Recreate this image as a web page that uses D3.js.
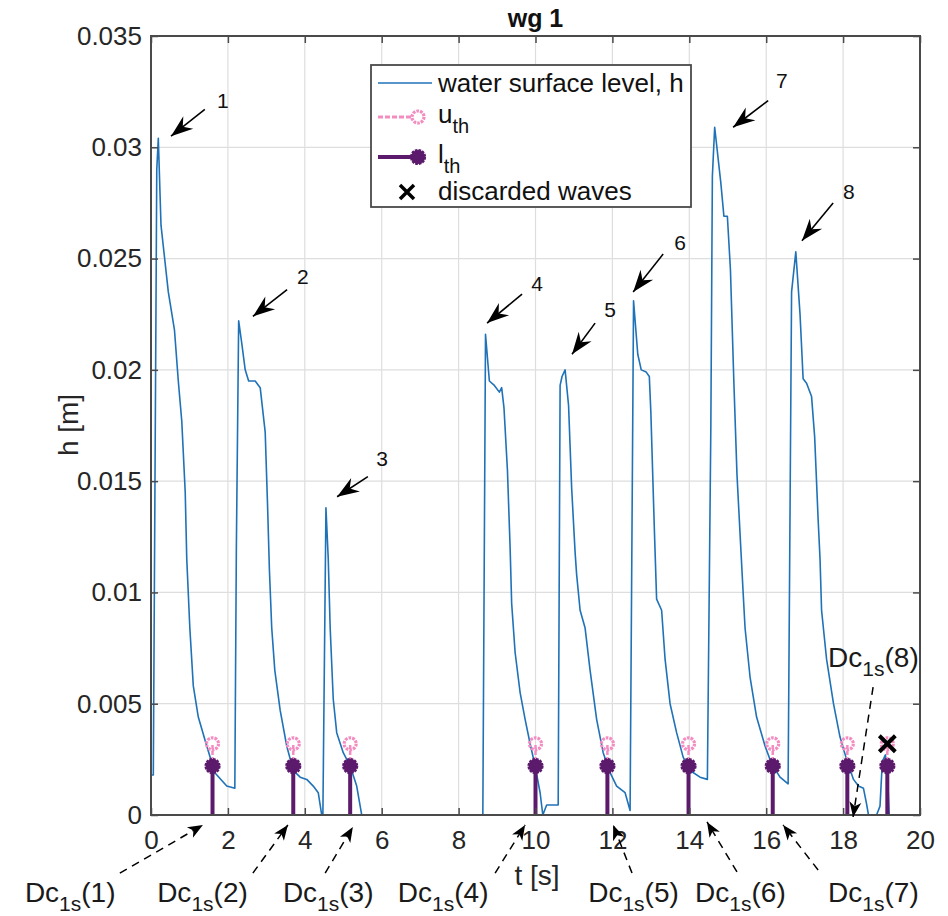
<!DOCTYPE html>
<html><head><meta charset="utf-8">
<script src="https://cdn.jsdelivr.net/npm/d3@7"></script>
<style>body{margin:0;background:#fff}svg{display:block;font-family:"Liberation Sans",Arial,Helvetica,sans-serif}</style>
</head><body>
<svg id="c" width="948" height="916"></svg>
<script>
// ---------- data ----------
const timeS = [0.00,0.06,0.15,0.19,0.26,0.45,0.61,0.71,0.80,0.89,0.93,1.01,1.10,1.23,1.45,1.66,1.97,2.18,
  2.22,2.28,2.36,2.45,2.54,2.71,2.84,2.97,3.03,3.08,3.14,3.22,3.36,3.53,3.70,3.88,4.05,4.22,4.35,4.44,
  4.47,4.55,4.61,4.66,4.74,4.83,5.00,5.18,5.35,5.48,8.63,
  8.70,8.80,8.93,9.06,9.12,9.18,9.27,9.34,9.38,9.47,9.60,9.73,9.86,9.99,10.12,10.19,10.29,10.59,
  10.64,10.69,10.77,10.86,10.94,11.03,11.07,11.16,11.29,11.42,11.59,11.76,11.94,12.11,12.33,12.46,
  12.55,12.66,12.75,12.88,12.96,13.00,13.09,13.15,13.28,13.37,13.50,13.67,13.84,14.02,14.28,14.47,
  14.56,14.60,14.66,14.82,14.90,14.99,15.07,15.16,15.24,15.33,15.40,15.45,15.58,15.75,15.97,16.14,16.36,16.57,
  16.66,16.77,16.88,16.96,17.05,17.18,17.26,17.35,17.40,17.44,17.57,17.75,17.92,18.09,18.27,18.40,18.53,18.61,18.66,
  18.87,18.96,19.02,19.10,19.15,19.20,20.00];
const levelH = [0.0018,0.0018,0.0290,0.0304,0.0265,0.0235,0.0218,0.0195,0.0177,0.0145,0.0115,0.0084,0.0058,0.0044,0.0031,0.0019,0.0013,0.0012,
  0.0120,0.0222,0.0212,0.0200,0.0195,0.0195,0.0192,0.0172,0.0140,0.0110,0.0084,0.0065,0.0047,0.0031,0.0020,0.0017,0.0016,0.0013,0.0010,0.0000,
  0.0000,0.0138,0.0115,0.0084,0.0052,0.0037,0.0028,0.0022,0.0013,0.0000,0.0000,
  0.0216,0.0195,0.0193,0.0190,0.0192,0.0183,0.0155,0.0120,0.0095,0.0073,0.0055,0.0043,0.0032,0.0022,0.0010,0.0000,0.00045,0.00045,
  0.0193,0.0197,0.0200,0.0184,0.0147,0.0118,0.0108,0.0092,0.0084,0.0065,0.0043,0.0028,0.0019,0.0013,0.0010,0.0002,
  0.0231,0.0207,0.0200,0.0199,0.0197,0.0181,0.0129,0.0097,0.0092,0.0070,0.0050,0.0037,0.0026,0.0020,0.0017,0.0016,
  0.0174,0.0287,0.0309,0.0284,0.0269,0.0269,0.0245,0.0194,0.0153,0.0123,0.0100,0.0084,0.0062,0.0044,0.0031,0.0023,0.0017,0.0014,
  0.0235,0.0253,0.0225,0.0196,0.0194,0.0188,0.0170,0.0133,0.0115,0.0092,0.0070,0.0050,0.0035,0.0025,0.0016,0.0013,0.0012,0.0005,0.0000,
  0.0000,0.0004,0.0024,0.0027,0.0020,0.0000,0.0000];

const stemTimes = [1.60,3.70,5.18,10.00,11.87,13.98,16.17,18.11,19.15];
const upperTh   = [0.0032,0.0032,0.0032,0.0032,0.0032,0.0032,0.0032,0.0032,0.0032];
const lowerTh   = [0.0022,0.0022,0.0022,0.0022,0.0022,0.0022,0.0022,0.0022,0.0022];
const discardedT = [19.15];
const discardedH = [0.0032];

const xTicks = [0,2,4,6,8,10,12,14,16,18,20];
const yTicks = [0,0.005,0.01,0.015,0.02,0.025,0.03,0.035];
const yTickLabels = ["0","0.005","0.01","0.015","0.02","0.025","0.03","0.035"];

// peak annotations (data units)
const peakLabels = ["1","2","3","4","5","6","7","8"];
const peakTextT = [1.87,3.95,6.01,10.04,11.94,13.76,16.41,18.15];
const peakTextH = [0.0321,0.0242,0.0160,0.0239,0.0227,0.0257,0.0330,0.0280];
const peakTailT = [1.40,3.54,5.64,9.65,11.55,13.32,16.05,17.74];
const peakTailH = [0.0317,0.0236,0.0152,0.0234,0.0221,0.0252,0.0321,0.0275];
const peakTipT  = [0.52,2.65,4.84,8.74,10.95,12.54,15.14,16.93];
const peakTipH  = [0.0305,0.0224,0.0143,0.0221,0.0207,0.0235,0.0309,0.0258];

// Dc_1s annotations (data units)
const dcLabels = ["1","2","3","4","5","6","7","8"];
const dcTextT = [-3.28,0.16,3.43,6.42,11.37,14.15,17.61,17.61];
const dcTextH = [-0.00391,-0.00391,-0.00391,-0.00391,-0.00391,-0.00391,-0.00391,0.00665];
const dcTailT = [-0.81,2.65,4.53,8.95,12.51,15.24,17.35,18.78];
const dcTailH = [-0.00261,-0.00261,-0.00261,-0.00261,-0.00261,-0.00256,-0.00247,0.00575];
const dcTipT  = [1.35,3.56,5.25,9.73,12.02,14.46,16.44,18.26];
const dcTipH  = [-0.00045,-0.00045,-0.00054,-0.00045,-0.00045,-0.00031,-0.00045,-0.00009];

// ---------- drawing ----------
const svg = d3.select("#c");
const L=151, R=920, T=36, B=815;
const x = d3.scaleLinear().domain([0,20]).range([L,R]);
const y = d3.scaleLinear().domain([0,0.035]).range([B,T]);
const blue="#1f72b8", pink="#f38cc0", purple="#5c1a6c", axisC="#4a4a4a";

svg.append("rect").attr("width",948).attr("height",916).attr("fill","#fff");

// grid
const g = svg.append("g");
g.selectAll(".gx").data(xTicks).join("line")
 .attr("x1",d=>x(d)).attr("x2",d=>x(d)).attr("y1",T).attr("y2",B)
 .attr("stroke","#dedede").attr("stroke-width",1.2);
g.selectAll(".gy").data(yTicks).join("line")
 .attr("x1",L).attr("x2",R).attr("y1",d=>y(d)).attr("y2",d=>y(d))
 .attr("stroke","#dedede").attr("stroke-width",1.2);

// curve
svg.append("clipPath").attr("id","clip").append("rect").attr("x",L).attr("y",T).attr("width",R-L).attr("height",B-T);
const pts = timeS.map((t,i)=>[t,levelH[i]]);
svg.append("path").datum(pts).attr("clip-path","url(#clip)")
 .attr("fill","none").attr("stroke",blue).attr("stroke-width",1.6).attr("stroke-linejoin","round")
 .attr("d",d3.line().x(d=>x(d[0])).y(d=>y(d[1])));

// stems
const stems = stemTimes.map((t,i)=>({t,u:upperTh[i],l:lowerTh[i]}));
const sg = svg.append("g");
sg.selectAll(".us").data(stems).join("line")
 .attr("x1",d=>x(d.t)).attr("x2",d=>x(d.t)).attr("y1",y(0)).attr("y2",d=>y(d.u))
 .attr("stroke",pink).attr("stroke-width",2.5).attr("stroke-dasharray","4,2");
sg.selectAll(".ls").data(stems).join("line")
 .attr("x1",d=>x(d.t)).attr("x2",d=>x(d.t)).attr("y1",y(0)).attr("y2",d=>y(d.l))
 .attr("stroke",purple).attr("stroke-width",4);
sg.selectAll(".um").data(stems).join("circle")
 .attr("cx",d=>x(d.t)).attr("cy",d=>y(d.u)).attr("r",6)
 .attr("fill","none").attr("stroke",pink).attr("stroke-width",3.2).attr("stroke-dasharray","2.6,1.1");
sg.selectAll(".lm").data(stems).join("circle")
 .attr("cx",d=>x(d.t)).attr("cy",d=>y(d.l)).attr("r",7)
 .attr("fill",purple).attr("stroke",purple).attr("stroke-width",2.2).attr("stroke-dasharray","2.6,1.1");

// discarded marker
const xs = discardedT.map((t,i)=>({t,h:discardedH[i]}));
xs.forEach(d=>{
  const cx=x(d.t), cy=y(d.h), s=8;
  svg.append("path").attr("d",`M${cx-s},${cy-s}L${cx+s},${cy+s}M${cx-s},${cy+s}L${cx+s},${cy-s}`)
   .attr("stroke","#000").attr("stroke-width",4);
});

// axes box + ticks (inward)
const ax = svg.append("g");
const axB = ax.append("g").attr("transform",`translate(0,${B})`)
 .call(d3.axisBottom(x).tickValues(xTicks).tickFormat(d3.format("d")).tickSize(-7).tickPadding(16));
const axL = ax.append("g").attr("transform",`translate(${L},0)`)
 .call(d3.axisLeft(y).tickValues(yTicks).tickFormat((d,i)=>yTickLabels[i]).tickSize(-7).tickPadding(9));
const axT = ax.append("g").attr("transform",`translate(0,${T})`)
 .call(d3.axisTop(x).tickValues(xTicks).tickFormat("").tickSize(-7));
const axR = ax.append("g").attr("transform",`translate(${R},0)`)
 .call(d3.axisRight(y).tickValues(yTicks).tickFormat("").tickSize(-7));
[axB,axL,axT,axR].forEach(a=>{
  a.select(".domain").remove();
  a.selectAll("line").attr("stroke",axisC).attr("stroke-width",1.5);
  a.selectAll("text").attr("font-size",26).attr("fill","#262626").attr("font-family","Liberation Sans, Arial, sans-serif");
});
svg.append("rect").attr("x",L).attr("y",T).attr("width",R-L).attr("height",B-T)
 .attr("fill","none").attr("stroke",axisC).attr("stroke-width",2);

// labels
svg.append("text").attr("x",(L+R)/2).attr("y",27).attr("text-anchor","middle")
 .attr("font-size",25).attr("font-weight","bold").attr("fill","#111").text("wg 1");
svg.append("text").attr("x",537).attr("y",885).attr("text-anchor","middle")
 .attr("font-size",28).attr("fill","#262626").text("t [s]");
svg.append("text").attr("transform","translate(78,425) rotate(-90)").attr("text-anchor","middle")
 .attr("font-size",28).attr("fill","#262626").text("h [m]");

// arrow helper
function arrowHead(x1,y1,x2,y2,len,wid,notch){
  const a=Math.atan2(y2-y1,x2-x1), c=Math.cos(a), s=Math.sin(a);
  const bx=x2-len*c, by=y2-len*s;
  const nx=x2-(len-notch)*c, ny=y2-(len-notch)*s;
  return `M${x2},${y2}L${bx-wid/2*s},${by+wid/2*c}L${nx},${ny}L${bx+wid/2*s},${by-wid/2*c}Z`;
}

// peak annotations
peakLabels.forEach((lab,i)=>{
  const x1=x(peakTailT[i]), y1=y(peakTailH[i]), x2=x(peakTipT[i]), y2=y(peakTipH[i]);
  svg.append("line").attr("x1",x1).attr("y1",y1).attr("x2",x2).attr("y2",y2).attr("stroke","#000").attr("stroke-width",1.6);
  svg.append("path").attr("d",arrowHead(x1,y1,x2,y2,22,16,7)).attr("fill","#000");
  svg.append("text").attr("x",x(peakTextT[i])).attr("y",y(peakTextH[i])).attr("text-anchor","middle")
   .attr("dominant-baseline","central").attr("font-size",21).attr("fill","#111").text(lab);
});

// Dc annotations
dcLabels.forEach((lab,i)=>{
  const x1=x(dcTailT[i]), y1=y(dcTailH[i]), x2=x(dcTipT[i]), y2=y(dcTipH[i]);
  svg.append("line").attr("x1",x1).attr("y1",y1).attr("x2",x2).attr("y2",y2)
   .attr("stroke","#000").attr("stroke-width",1.5).attr("stroke-dasharray","8,6");
  svg.append("path").attr("d",arrowHead(x1,y1,x2,y2,15,12,4)).attr("fill","#000");
  const t = svg.append("text").attr("x",x(dcTextT[i])).attr("y",y(dcTextH[i]))
   .attr("font-size",28).attr("fill","#1a1a1a");
  t.append("tspan").text("Dc");
  t.append("tspan").attr("font-size",21).attr("dy",9).text("1s");
  t.append("tspan").attr("dy",-9).text("("+lab+")");
});

// legend
const lg = svg.append("g");
lg.append("rect").attr("x",371).attr("y",65).attr("width",320).attr("height",142)
 .attr("fill","#fff").attr("stroke",axisC).attr("stroke-width",1.8);
const rows=[83,117,157,192];
lg.append("line").attr("x1",378).attr("x2",432).attr("y1",rows[0]).attr("y2",rows[0]).attr("stroke",blue).attr("stroke-width",1.6);
lg.append("text").attr("x",438).attr("y",rows[0]+9).attr("font-size",26).attr("fill","#111").text("water surface level, h");
lg.append("line").attr("x1",378).attr("x2",413).attr("y1",rows[1]).attr("y2",rows[1]).attr("stroke",pink).attr("stroke-width",3).attr("stroke-dasharray","5,2");
lg.append("circle").attr("cx",418).attr("cy",rows[1]).attr("r",6).attr("fill","none").attr("stroke",pink).attr("stroke-width",3.2).attr("stroke-dasharray","2.6,1.1");
const ut=lg.append("text").attr("x",438).attr("y",rows[1]+6).attr("font-size",26).attr("fill","#111");
ut.append("tspan").text("u"); ut.append("tspan").attr("font-size",20).attr("dy",10).text("th");
lg.append("line").attr("x1",378).attr("x2",413).attr("y1",rows[2]).attr("y2",rows[2]).attr("stroke",purple).attr("stroke-width",4);
lg.append("circle").attr("cx",418).attr("cy",rows[2]).attr("r",7).attr("fill",purple).attr("stroke",purple).attr("stroke-width",2.2).attr("stroke-dasharray","2.6,1.1");
const lt=lg.append("text").attr("x",438).attr("y",rows[2]+6).attr("font-size",26).attr("fill","#111");
lt.append("tspan").text("l"); lt.append("tspan").attr("font-size",20).attr("dy",10).text("th");
const cx0=407, cy0=rows[3], s0=7;
lg.append("path").attr("d",`M${cx0-s0},${cy0-s0}L${cx0+s0},${cy0+s0}M${cx0-s0},${cy0+s0}L${cx0+s0},${cy0-s0}`).attr("stroke","#000").attr("stroke-width",3.5);
lg.append("text").attr("x",438).attr("y",rows[3]+8).attr("font-size",26).attr("fill","#111").text("discarded waves");
</script>
</body></html>
